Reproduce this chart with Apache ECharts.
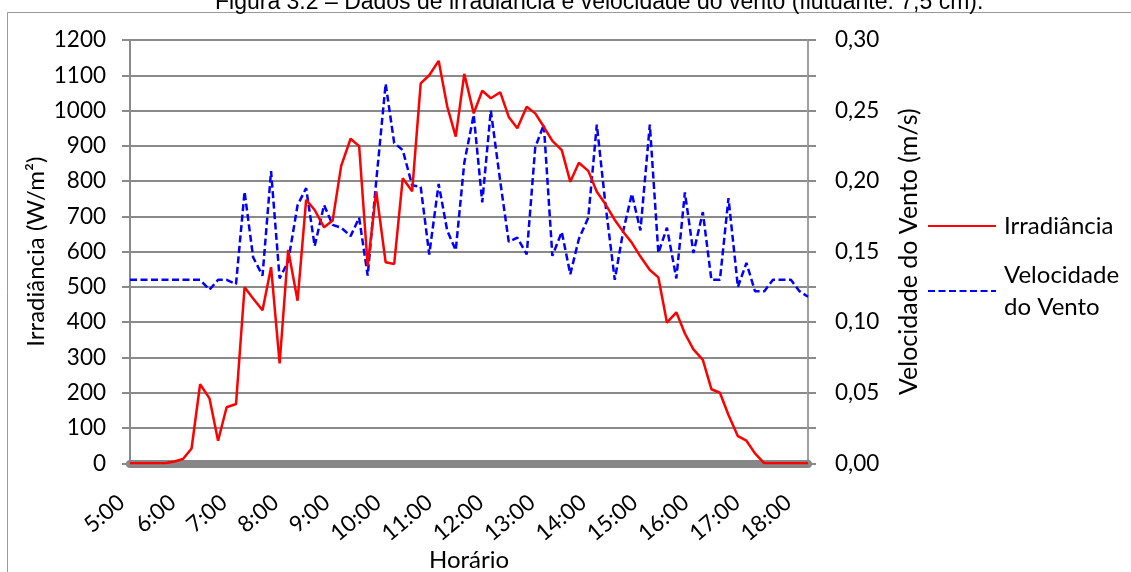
<!DOCTYPE html>
<html>
<head>
<meta charset="utf-8">
<script src="https://cdn.jsdelivr.net/npm/echarts@6/dist/echarts.min.js"></script>
<style>
  html, body { margin: 0; padding: 0; background: #ffffff; }
  #chart { width: 1131px; height: 572px; }
</style>
</head>
<body>
<div id="chart"></div>
<script>
// Sample times (minutes after midnight)
const times = [300,310,321,331,341,352,362,372,382,393,403,413,424,434,444,455,465,475,485,496,
  506,516,527,537,547,558,568,578,588,599,609,619,630,640,650,661,671,681,691,702,
  712,722,733,743,753,764,774,784,794,805,815,825,836,846,856,867,877,887,897,908,
  918,928,939,949,959,970,980,990,1000,1011,1021,1031,1042,1052,1062,1073,1083,1093];

// Irradiância (W/m²)
const irradiance = [0,0,0,0,0,5,12,42,224,184,64,159,168,499,467,434,556,283,605,461,
  747,718,669,688,843,920,899,560,771,570,565,808,771,1077,1100,1141,1012,926,1104,992,
  1056,1035,1052,982,950,1011,992,954,914,888,798,852,829,770,735,690,656,625,586,548,
  527,399,428,368,323,293,210,200,137,77,64,28,0,0,0,0,0,0];

// Velocidade do Vento (m/s)
const windSpeed = [0.13,0.13,0.13,0.13,0.13,0.13,0.13,0.13,0.13,0.123,0.13,0.13,0.127,0.1925,0.146,0.133,0.207,0.131,0.143,0.183,
  0.195,0.154,0.183,0.169,0.167,0.161,0.174,0.133,0.20,0.269,0.227,0.222,0.197,0.196,0.148,0.198,0.165,0.151,0.213,0.247,
  0.185,0.25,0.20,0.157,0.16,0.148,0.224,0.24,0.147,0.164,0.134,0.159,0.174,0.24,0.184,0.13,0.165,0.191,0.165,0.24,
  0.149,0.167,0.131,0.192,0.149,0.178,0.13,0.13,0.188,0.125,0.142,0.122,0.122,0.13,0.13,0.13,0.122,0.118];

const hourLabels = ['5:00','6:00','7:00','8:00','9:00','10:00','11:00','12:00','13:00','14:00','15:00','16:00','17:00','18:00'];

const FONT = 'Lato';
const GRID = '#8a8a8a';

const chart = echarts.init(document.getElementById('chart'));
chart.setOption({
  animation: false,
  backgroundColor: '#ffffff',
  textStyle: { fontFamily: FONT },
  graphic: [
    { type: 'rect', shape: { x: 7.5, y: 12.5, width: 1200, height: 700 },
      style: { fill: 'none', stroke: '#9a9a9a', lineWidth: 1 }, z: -1 },
    { type: 'text', left: 215, top: -9,
      style: { text: 'Figura 3.2 – Dados de irradiância e velocidade do vento (flutuante: 7,5 cm).',
        font: '23px "Liberation Sans", Arial, sans-serif', fill: '#000' } }
  ],
  grid: { left: 130, top: 40, width: 678, height: 423.3, containLabel: false, outerBoundsMode: 'none' },
  legend: [
    { data: ['Irradiância'], left: 927, top: 210, orient: 'vertical', padding: 0,
      itemWidth: 68, itemHeight: 14, itemStyle: { opacity: 0 },
      textStyle: { fontFamily: FONT, fontSize: 24, color: '#000', lineHeight: 32, padding: [0, 0, 0, 3] } },
    { data: ['Velocidade do Vento'], left: 927, top: 243, orient: 'vertical', padding: 0,
      itemWidth: 68, itemHeight: 14, itemStyle: { opacity: 0 },
      formatter: () => 'Velocidade\ndo Vento',
      textStyle: { fontFamily: FONT, fontSize: 24, color: '#000', lineHeight: 32, padding: [32, 0, 0, 3] } }
  ],
  xAxis: [
    { type: 'value', min: 300, max: 1093, interval: 60,
      name: 'Horário', nameLocation: 'middle', nameGap: 85, nameMoveOverlap: false,
      nameTextStyle: { fontFamily: FONT, fontSize: 24, color: '#000' },
      axisLine: { show: false }, axisTick: { show: false }, splitLine: { show: false },
      axisLabel: { rotate: 40, margin: 29, padding: [0, 11, 0, 0], fontFamily: FONT, fontSize: 22.5, color: '#000',
        showMaxLabel: false,
        formatter: v => hourLabels[Math.round((v - 300) / 60)] || '' } },
    { type: 'value', min: 300, max: 1093, position: 'bottom', offset: 4.5,
      axisLine: { show: true, lineStyle: { color: '#878787', width: 8 } },
      axisTick: { show: false }, axisLabel: { show: false }, splitLine: { show: false } }
  ],
  yAxis: [
    { type: 'value', min: 0, max: 1200, interval: 100, position: 'left',
      name: 'Irradiância (W/m²)', nameLocation: 'middle', nameGap: 82, nameRotate: 90, nameMoveOverlap: false,
      nameTextStyle: { fontFamily: FONT, fontSize: 24, color: '#000' },
      axisLine: { show: true, lineStyle: { color: GRID, width: 2 } },
      axisTick: { show: true, length: 8, lineStyle: { color: GRID, width: 2 } },
      axisLabel: { margin: 24, fontFamily: FONT, fontSize: 22.5, color: '#000', formatter: v => String(v) },
      splitLine: { show: true, lineStyle: { color: GRID, width: 2 } } },
    { type: 'value', min: 0, max: 0.3, interval: 0.025, position: 'right',
      name: 'Velocidade do Vento (m/s)', nameLocation: 'middle', nameGap: 88, nameRotate: 90, nameMoveOverlap: false,
      nameTextStyle: { fontFamily: FONT, fontSize: 25, color: '#000' },
      axisLine: { show: true, lineStyle: { color: '#a0a0a0', width: 2 } },
      axisTick: { show: true, length: 8, lineStyle: { color: GRID, width: 2 } },
      axisLabel: { margin: 27, fontFamily: FONT, fontSize: 22.5, color: '#000',
        formatter: v => (Math.round(v * 1000) % 50 === 0 ? v.toFixed(2).replace('.', ',') : '') },
      splitLine: { show: false } }
  ],
  series: [
    { name: 'Irradiância', type: 'line', xAxisIndex: 0, yAxisIndex: 0, symbol: 'none',
      data: times.map((t, i) => [t, irradiance[i]]),
      lineStyle: { color: '#ff0000', width: 2.5 }, itemStyle: { color: '#ff0000' }, z: 3 },
    { name: 'Velocidade do Vento', type: 'line', xAxisIndex: 0, yAxisIndex: 1, symbol: 'none',
      data: times.map((t, i) => [t, windSpeed[i]]),
      lineStyle: { color: '#0000ff', width: 2.5, type: [7, 3.5] }, itemStyle: { color: '#0000ff' }, z: 2 }
  ]
});
</script>
</body>
</html>
